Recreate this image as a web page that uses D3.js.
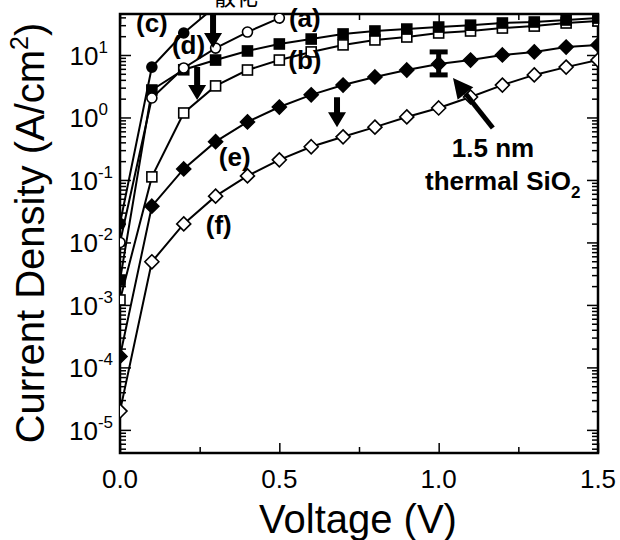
<!DOCTYPE html>
<head>
  <meta charset="utf-8">
  <script src="https://d3js.org/d3.v7.min.js"></script>
  <style>
    body { margin:0; background:#fff; }
    text { font-family: "Liberation Sans", Arial, sans-serif; fill:#000; }
  </style>
</head>
<body>
<script>
  // voltages (V) and current density (A/cm2)
  var voltage = [0, 0.1, 0.2, 0.3, 0.4, 0.5, 0.6, 0.7, 0.8, 0.9, 1.0, 1.1, 1.2, 1.3, 1.4, 1.5];
  var curveC = [0.02, 6.4, 22.5, 60];
  var curveA = [0.01, 2.05, 6.2, 12.9, 23.3, 39];
  var curveD = [2.5e-3, 2.75, 5.8, 8.3, 11.6, 15, 18, 21.7, 24.2, 26, 28, 30, 32.5, 33.7, 36.3, 39];
  var curveB = [1.2e-3, 0.112, 1.18, 3.2, 5.75, 8.3, 11.2, 14.5, 17.4, 19.4, 22.5, 24.2, 27, 29, 32.5, 35];
  var curveE = [1.5e-4, 0.038, 0.15, 0.41, 0.85, 1.47, 2.3, 3.3, 4.45, 5.75, 7.2, 8.3, 10, 11.2, 13.4, 14.5];
  var curveF = [2e-5, 4.9e-3, 0.0198, 0.055, 0.116, 0.21, 0.34, 0.49, 0.70, 1.02, 1.42, 2.13, 3.3, 4.8, 6.4, 8.3];
  var xTicks = [0, 0.5, 1.0, 1.5];
  var yExponents = [1, 0, -1, -2, -3, -4, -5];

  var width = 620, height = 540;
  var pLeft = 120, pRight = 598, pTop = 14, pBottom = 453;

  var svg = d3.select("body").append("svg")
    .attr("width", width).attr("height", height);

  var x = d3.scaleLinear().domain([0, 1.5]).range([pLeft, pRight]);
  var y = d3.scaleLog().domain([Math.pow(10, -5.37), Math.pow(10, 1.656)]).range([pBottom, pTop]);

  svg.append("clipPath").attr("id", "plot")
    .append("rect").attr("x", pLeft).attr("y", pTop)
    .attr("width", pRight - pLeft).attr("height", pBottom - pTop);

  // ticks (inward, mirrored)
  var minorY = [];
  for (var e = -6; e <= 1; e++) {
    for (var m = 2; m <= 9; m++) {
      var v = m * Math.pow(10, e);
      if (v > y.domain()[0] && v < y.domain()[1]) minorY.push(v);
    }
  }
  var majorY = yExponents.map(function(p) { return Math.pow(10, p); });

  svg.append("g").attr("transform", "translate(" + pLeft + ",0)")
    .call(d3.axisLeft(y).tickValues(majorY).tickSize(-11).tickFormat(""));
  svg.append("g").attr("transform", "translate(" + pLeft + ",0)")
    .call(d3.axisLeft(y).tickValues(minorY).tickSize(-6).tickFormat(""));
  svg.append("g").attr("transform", "translate(" + pRight + ",0)")
    .call(d3.axisRight(y).tickValues(majorY).tickSize(-11).tickFormat(""));
  svg.append("g").attr("transform", "translate(" + pRight + ",0)")
    .call(d3.axisRight(y).tickValues(minorY).tickSize(-6).tickFormat(""));

  svg.append("g").attr("transform", "translate(0," + pBottom + ")")
    .call(d3.axisBottom(x).tickValues(xTicks).tickSize(-10).tickFormat(""));
  svg.append("g").attr("transform", "translate(0," + pBottom + ")")
    .call(d3.axisBottom(x).tickValues([0.25, 0.75, 1.25]).tickSize(-6).tickFormat(""));
  svg.append("g").attr("transform", "translate(0," + pTop + ")")
    .call(d3.axisTop(x).tickValues(xTicks).tickSize(-10).tickFormat(""));
  svg.append("g").attr("transform", "translate(0," + pTop + ")")
    .call(d3.axisTop(x).tickValues([0.25, 0.75, 1.25]).tickSize(-6).tickFormat(""));

  svg.selectAll(".domain").remove();
  svg.selectAll(".tick line").attr("stroke", "#000").attr("stroke-width", 1.5);

  svg.append("rect").attr("x", pLeft).attr("y", pTop)
    .attr("width", pRight - pLeft).attr("height", pBottom - pTop)
    .attr("fill", "none").attr("stroke", "#000").attr("stroke-width", 2.5);

  // tick labels
  svg.selectAll(".xl").data(xTicks).enter().append("text")
    .attr("x", function(d) { return x(d); }).attr("y", 488)
    .attr("text-anchor", "middle").style("font-size", "26px")
    .text(function(d) { return d.toFixed(1); });

  var yl = svg.selectAll(".yl").data(yExponents).enter().append("text")
    .attr("x", function(d) { return d < 0 ? 113 : 108; })
    .attr("y", function(d) { return y(Math.pow(10, d)) + 10; })
    .attr("text-anchor", "end").style("font-size", "26px");
  yl.append("tspan").text("10");
  yl.append("tspan").attr("dy", -12).style("font-size", "17px")
    .text(function(d) { return d < 0 ? "-" + (-d) : d; });

  // axis titles
  svg.append("text").attr("x", 358).attr("y", 533).attr("text-anchor", "middle")
    .style("font-size", "40px").text("Voltage (V)");
  var yt = svg.append("text").attr("transform", "translate(44,233) rotate(-90)")
    .attr("text-anchor", "middle").style("font-size", "40px");
  yt.append("tspan").text("Current Density (A/cm");
  yt.append("tspan").attr("dy", -16).style("font-size", "25px").text("2");
  yt.append("tspan").attr("dy", 16).text(")");

  // cut-off caption at top
  svg.append("text").attr("x", 236).attr("y", 5).attr("text-anchor", "middle")
    .style("font-family", "'Noto Sans CJK SC'").style("font-size", "22px").text("散化");

  // curves
  var plot = svg.append("g").attr("clip-path", "url(#plot)");
  var line = d3.line().x(function(d) { return x(d[0]); }).y(function(d) { return y(d[1]); });

  var series = [
    { vals: curveF, shape: "diamond", fill: "#fff" },
    { vals: curveE, shape: "diamond", fill: "#000" },
    { vals: curveB, shape: "square", fill: "#fff" },
    { vals: curveD, shape: "square", fill: "#000" },
    { vals: curveA, shape: "circle", fill: "#fff" },
    { vals: curveC, shape: "circle", fill: "#000" }
  ];

  series.forEach(function(s) {
    var pts = s.vals.map(function(v, i) { return [voltage[i], v]; });
    plot.append("path").datum(pts).attr("d", line)
      .attr("fill", "none").attr("stroke", "#000").attr("stroke-width", 2);
  });
  series.forEach(function(s) {
    var pts = s.vals.map(function(v, i) { return [voltage[i], v]; });
    var g = plot.append("g");
    pts.forEach(function(p) {
      var cx = x(p[0]), cy = y(p[1]);
      var mk;
      if (s.shape === "circle") {
        mk = g.append("circle").attr("cx", cx).attr("cy", cy).attr("r", 5);
      } else if (s.shape === "square") {
        mk = g.append("rect").attr("x", cx - 5).attr("y", cy - 5).attr("width", 10).attr("height", 10);
      } else {
        mk = g.append("path").attr("d", "M" + cx + "," + (cy - 7) + "L" + (cx + 7) + "," + cy +
          "L" + cx + "," + (cy + 7) + "L" + (cx - 7) + "," + cy + "Z");
      }
      mk.attr("fill", s.fill).attr("stroke", "#000").attr("stroke-width", 1.6);
    });
  });

  // curve labels
  var labels = [
    { t: "(a)", v: 0.58, j: 28 },
    { t: "(b)", v: 0.58, j: 6.0 },
    { t: "(c)", v: 0.1, j: 23 },
    { t: "(d)", v: 0.215, j: 10.5 },
    { t: "(e)", v: 0.36, j: 0.17 },
    { t: "(f)", v: 0.31, j: 0.0135 }
  ];
  svg.selectAll(".lab").data(labels).enter().append("text")
    .attr("x", function(d) { return x(d.v); }).attr("y", function(d) { return y(d.j); })
    .attr("text-anchor", "middle").style("font-size", "26px").style("font-weight", "bold")
    .text(function(d) { return d.t; });

  // thick down arrows
  function downArrow(v, j0, j1) {
    var cx = x(v), y0 = y(j0), y1 = y(j1);
    var hs = 15;
    svg.append("path").attr("d",
      "M" + (cx - 3) + "," + y0 + "L" + (cx + 3) + "," + y0 + "L" + (cx + 3) + "," + (y1 - hs) +
      "L" + (cx + 9) + "," + (y1 - hs) + "L" + cx + "," + y1 + "L" + (cx - 9) + "," + (y1 - hs) +
      "L" + (cx - 3) + "," + (y1 - hs) + "Z").attr("fill", "#000");
  }
  downArrow(0.292, 45, 12.9);
  downArrow(0.242, 6.4, 1.9);
  downArrow(0.681, 2.1, 0.7);

  // error bar at 1.0 V
  var ex = x(1.0), ey0 = y(11.2), ey1 = y(4.8);
  svg.append("line").attr("x1", ex).attr("x2", ex).attr("y1", ey0).attr("y2", ey1)
    .attr("stroke", "#000").attr("stroke-width", 5);
  [ey0, ey1].forEach(function(yy) {
    svg.append("line").attr("x1", ex - 9).attr("x2", ex + 9).attr("y1", yy).attr("y2", yy)
      .attr("stroke", "#000").attr("stroke-width", 5);
  });

  // slanted arrow to the error bar
  var ax0 = x(1.17), ay0 = y(0.68), ax1 = x(1.045), ay1 = y(4.3);
  var ang = Math.atan2(ay1 - ay0, ax1 - ax0);
  var hl = 20, hw = 10;
  var bx = ax1 - hl * Math.cos(ang), by = ay1 - hl * Math.sin(ang);
  svg.append("line").attr("x1", ax0).attr("y1", ay0).attr("x2", bx).attr("y2", by)
    .attr("stroke", "#000").attr("stroke-width", 5);
  svg.append("path").attr("d",
    "M" + ax1 + "," + ay1 +
    "L" + (bx + hw * Math.sin(ang)) + "," + (by - hw * Math.cos(ang)) +
    "L" + (bx - hw * Math.sin(ang)) + "," + (by + hw * Math.cos(ang)) + "Z")
    .attr("fill", "#000");

  svg.append("text").attr("x", 493).attr("y", 157).attr("text-anchor", "middle")
    .style("font-size", "26px").style("font-weight", "bold").text("1.5 nm");
  var sio = svg.append("text").attr("x", 425).attr("y", 190)
    .style("font-size", "26px").style("font-weight", "bold");
  sio.append("tspan").text("thermal SiO");
  sio.append("tspan").attr("dy", 8).style("font-size", "17px").text("2");
</script>
</body>
